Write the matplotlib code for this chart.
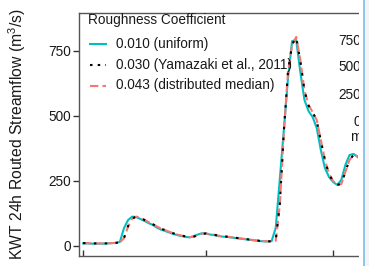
import numpy as np
import matplotlib
matplotlib.use('Agg')
import matplotlib.pyplot as plt
from matplotlib.patches import Rectangle
from matplotlib.lines import Line2D

plt.rcParams['font.family'] = ['Liberation Sans', 'DejaVu Sans']
plt.rcParams['mathtext.fontset'] = 'custom'
plt.rcParams['mathtext.rm'] = 'Liberation Sans'
plt.rcParams['mathtext.it'] = 'Liberation Sans:italic'

# daily routed streamflow (m3/s), day 0 .. 67
days = np.arange(68)
q_010 = [10, 10, 9, 9, 9, 9, 10, 11, 12, 16,
         69, 100, 113, 111, 104, 96, 88, 81, 71, 63,
         58, 52, 46, 42, 38, 35, 33, 38, 44, 49,
         48, 44, 42, 38, 36, 35, 33, 31, 29, 27,
         25, 23, 21, 19, 18, 17, 19, 69, 258, 450,
         646, 788, 792, 669, 562, 519, 496, 454, 369, 300,
         265, 246, 235, 254, 312, 350, 354, 342]
q_043 = [11, 11, 10, 10, 10, 10, 10, 11, 12, 14,
         30, 75, 105, 113, 108, 100, 92, 84, 75, 67,
         61, 55, 49, 44, 40, 37, 34, 36, 42, 47,
         48, 45, 43, 40, 37, 36, 34, 32, 30, 28,
         26, 24, 22, 20, 19, 18, 18, 20, 158, 440,
         670, 773, 804, 715, 600, 542, 515, 485, 408, 331,
         277, 250, 235, 238, 285, 331, 350, 346]
q_030 = [11, 11, 10, 10, 10, 10, 10, 11, 12, 14,
         31, 77, 106, 113, 108, 100, 92, 84, 75, 67,
         61, 55, 49, 44, 40, 37, 34, 36, 42, 47,
         48, 45, 43, 40, 37, 36, 34, 32, 30, 28,
         26, 24, 22, 20, 19, 18, 18, 21, 162, 445,
         672, 775, 803, 712, 598, 540, 514, 483, 405, 330,
         276, 249, 235, 239, 286, 332, 350, 346]

labels = ['0.010 (uniform)', '0.030 (Yamazaki et al., 2011)', '0.043 (distributed median)']
yticks = [0, 250, 500, 750]
xticks = [0, 30, 61]
side_labels = ['750', '500', '250', '0', 'm']

W, H = 369, 266
fig = plt.figure(figsize=(W / 100, H / 100), dpi=100)
ax = fig.add_axes([79/W, 1 - 256/H, (358 - 79)/W, (256 - 13)/H])

ax.plot(days, q_010, color='#00BFC4', lw=1.5, zorder=2)
ax.plot(days, q_043, color='#F8766D', lw=1.5, ls=(0, (4, 2)), zorder=3)
ax.plot(days, q_030, color='black', lw=1.5, ls=(0, (1.2, 4)), zorder=4)

ax.set_xlim(-0.98, 67.07)
ax.set_ylim(-38.5, 896)
ax.set_yticks(yticks)
ax.set_xticks(xticks)
ax.set_xticklabels([])
ax.tick_params(axis='y', labelsize=9.8, length=4, width=1, color='#333333', labelcolor='#1a1a1a', pad=2)
ax.tick_params(axis='x', length=4, width=1, color='#333333', direction='in')
for s in ['left', 'top', 'bottom']:
    ax.spines[s].set_color('#555555')
    ax.spines[s].set_linewidth(1)
ax.spines['right'].set_visible(False)

# legend drawn by hand so rows sit where the reference has them
fig.text(88/W, 1 - 20/H, 'Roughness Coefficient', ha='left', va='center',
         fontsize=9.8, color='#1a1a1a')
styles = [dict(color='#00BFC4', ls='-'),
          dict(color='black', ls=(0, (1.2, 2.5))),
          dict(color='#F8766D', ls=(0, (4, 2)))]
for lab, st, py in zip(labels, styles, [44, 65, 85.5]):
    fig.add_artist(Line2D([90/W, 106/W], [1 - py/H, 1 - py/H], lw=1.5,
                          transform=fig.transFigure, **st))
    fig.text(116/W, 1 - py/H, lab, ha='left', va='center', fontsize=9.8, color='#1a1a1a')

fig.text(17/W, 1 - 134/H, 'KWT 24h Routed Streamflow (m$^3$/s)', rotation=90,
         ha='center', va='center', fontsize=11.3, color='#1a1a1a')

# labels of the neighbouring panel peeking in from the right
for lab, py in zip(side_labels, [41, 67, 95, 122, 137]):
    fig.text(361/W, 1 - py/H, lab, ha='right', va='center', fontsize=9.8, color='#1a1a1a')
fig.patches.append(Rectangle((358.5/W, 0), 4/W, 1, transform=fig.transFigure,
                             facecolor='white', edgecolor='none', zorder=5))
fig.patches.append(Rectangle((362.5/W, 0), 2/W, 1, transform=fig.transFigure,
                             facecolor='#8EC6EC', edgecolor='none', zorder=6))
fig.patches.append(Rectangle((364.5/W, 0), 5/W, 1, transform=fig.transFigure,
                             facecolor='#f4f4f4', edgecolor='none', zorder=6))

fig.savefig('out.png', dpi=100)
